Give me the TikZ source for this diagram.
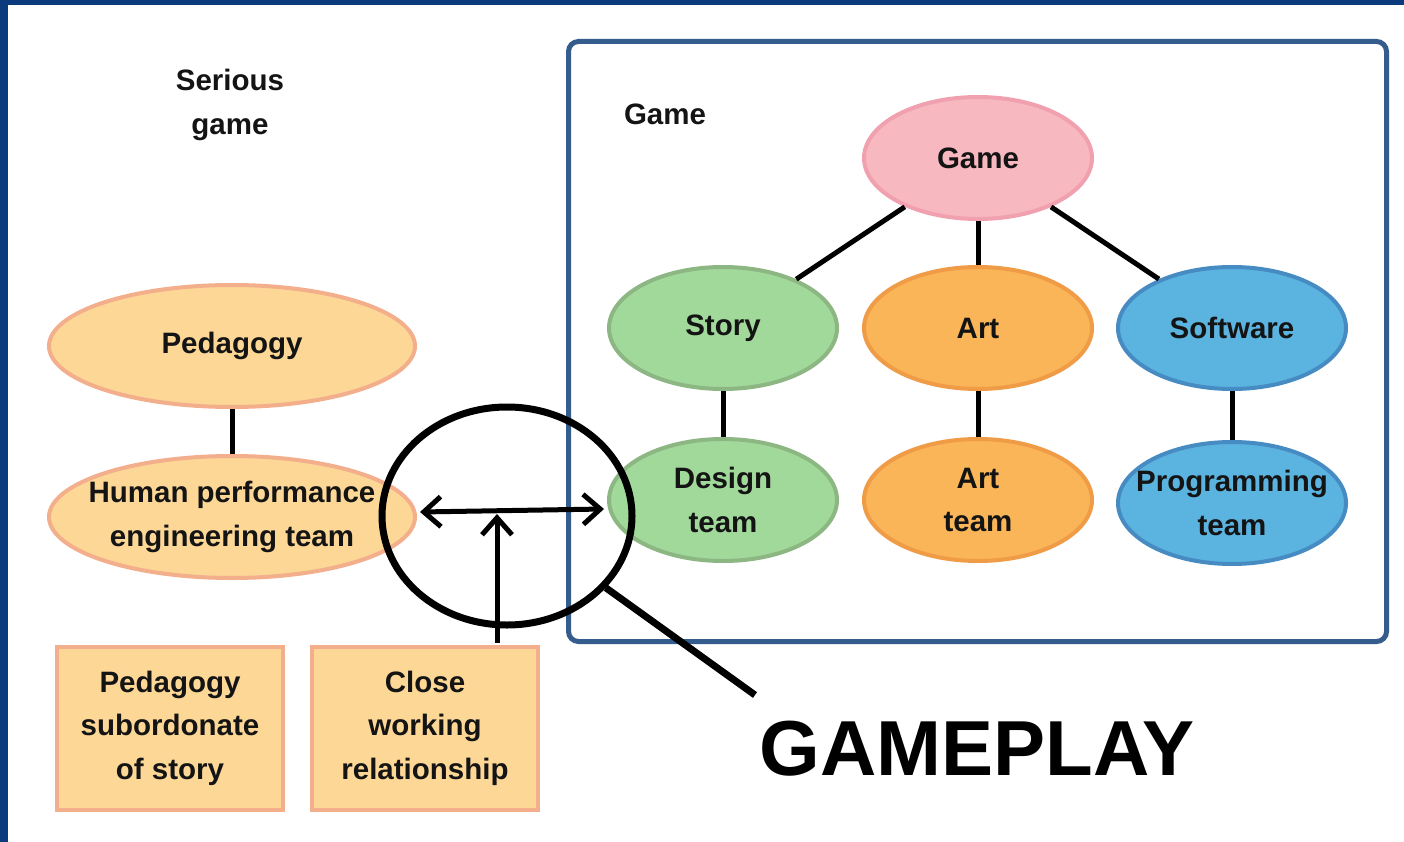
\documentclass[tikz,border=0pt]{standalone}
\usepackage{fontspec}
\setmainfont{Liberation Sans}
\usetikzlibrary{shapes.geometric,arrows.meta,calc}
\definecolor{frameblue}{RGB}{11,59,125}
\definecolor{boxline}{RGB}{52,92,140}
\definecolor{pinkF}{RGB}{247,184,192}
\definecolor{pinkD}{RGB}{240,160,175}
\definecolor{greenF}{RGB}{161,217,155}
\definecolor{greenD}{RGB}{140,182,130}
\definecolor{orangeF}{RGB}{249,181,88}
\definecolor{orangeD}{RGB}{240,155,70}
\definecolor{blueF}{RGB}{91,179,224}
\definecolor{blueD}{RGB}{70,140,195}
\definecolor{peachF}{RGB}{252,215,150}
\definecolor{peachD}{RGB}{243,174,140}
\definecolor{ink}{RGB}{20,20,20}
\tikzset{
  txt/.style={font=\fontsize{29.5}{43.5}\selectfont\bfseries, text=ink, align=center},
  oval/.style={txt, ellipse, line width=4pt, inner ysep=0pt, inner xsep=-45pt, minimum width=228pt, minimum height=122pt},
  pedoval/.style={oval, draw=peachD, fill=peachF, minimum width=366pt},
  notebox/.style={txt, rectangle, draw=peachD, fill=peachF, line width=4pt, minimum width=226pt, minimum height=163pt, inner sep=0pt},
  link/.style={line width=5pt, draw=black},
  barb/.tip={Straight Barb[length=17pt,width=30pt,line width=5pt]},
  arr/.style={line width=5pt, draw=black, -barb},
}
\begin{document}
\begin{tikzpicture}[x=1pt,y=-1pt]
\useasboundingbox (0,0) rectangle (1404,842);
\fill[white] (0,0) rectangle (1404,842);
\fill[frameblue] (0,0) rectangle (8,842);
\fill[frameblue] (0,0) rectangle (1404,5);

% game frame
\node[draw=boxline, line width=5pt, rounded corners=10pt, minimum width=818pt, minimum height=600pt, inner sep=0pt] (gamebox) at (977.5,341.5) {};
\node[txt] (gamelabel) at (665,114) {Game};
\node[txt] (serious) at (230,105) {Serious\\game};

% game tree
\node[oval, draw=pinkD, fill=pinkF] (game) at (978,158) {Game};
\node[oval, draw=greenD, fill=greenF] (story) at (723,328) {Story};
\node[oval, draw=orangeD, fill=orangeF] (art) at (978,328) {Art};
\node[oval, draw=blueD, fill=blueF] (soft) at (1232,328) {Software};
\node[oval, draw=greenD, fill=greenF] (design) at (723,500) {Design\\team};
\node[oval, draw=orangeD, fill=orangeF] (artteam) at (978,500) {Art\\team};
\node[oval, draw=blueD, fill=blueF] (prog) at (1232,503) {Programming\\team};

\draw[link] (game) -- (story);
\draw[link] (game) -- (art);
\draw[link] (game) -- (soft);
\draw[link] (story) -- (design);
\draw[link] (art) -- (artteam);
\draw[link] (soft) -- (prog);

% serious game side
\node[pedoval] (ped) at (232,346) {Pedagogy};
\node[pedoval] (hpe) at (232,517) {Human performance\\engineering team};
\draw[link] (ped) -- (hpe);

\node[notebox] (sub) at (170,728) {Pedagogy\\subordonate\\of story};
\node[notebox] (close) at (425,728) {Close\\working\\relationship};

% arrows
\draw[arr, barb-barb]
  ($(hpe.east)+(3,-5)$) -- ($(design.west)+(-3,9)$);
\coordinate (meet) at (497,514);
\draw[arr] ($(close.north)+(72,-2)$) -- (meet);

% magnifier
\node[ellipse, draw=black, line width=7pt, minimum width=250pt, minimum height=218pt, inner sep=0pt] (lens) at (507,516) {};
\node[font=\fontsize{78}{80}\selectfont\bfseries, text=black, anchor=base] (gp) at (977,775) {GAMEPLAY};
\coordinate (handle) at (755,695);
\draw[line width=7pt] (lens.-36) -- (handle);
\end{tikzpicture}
\end{document}
